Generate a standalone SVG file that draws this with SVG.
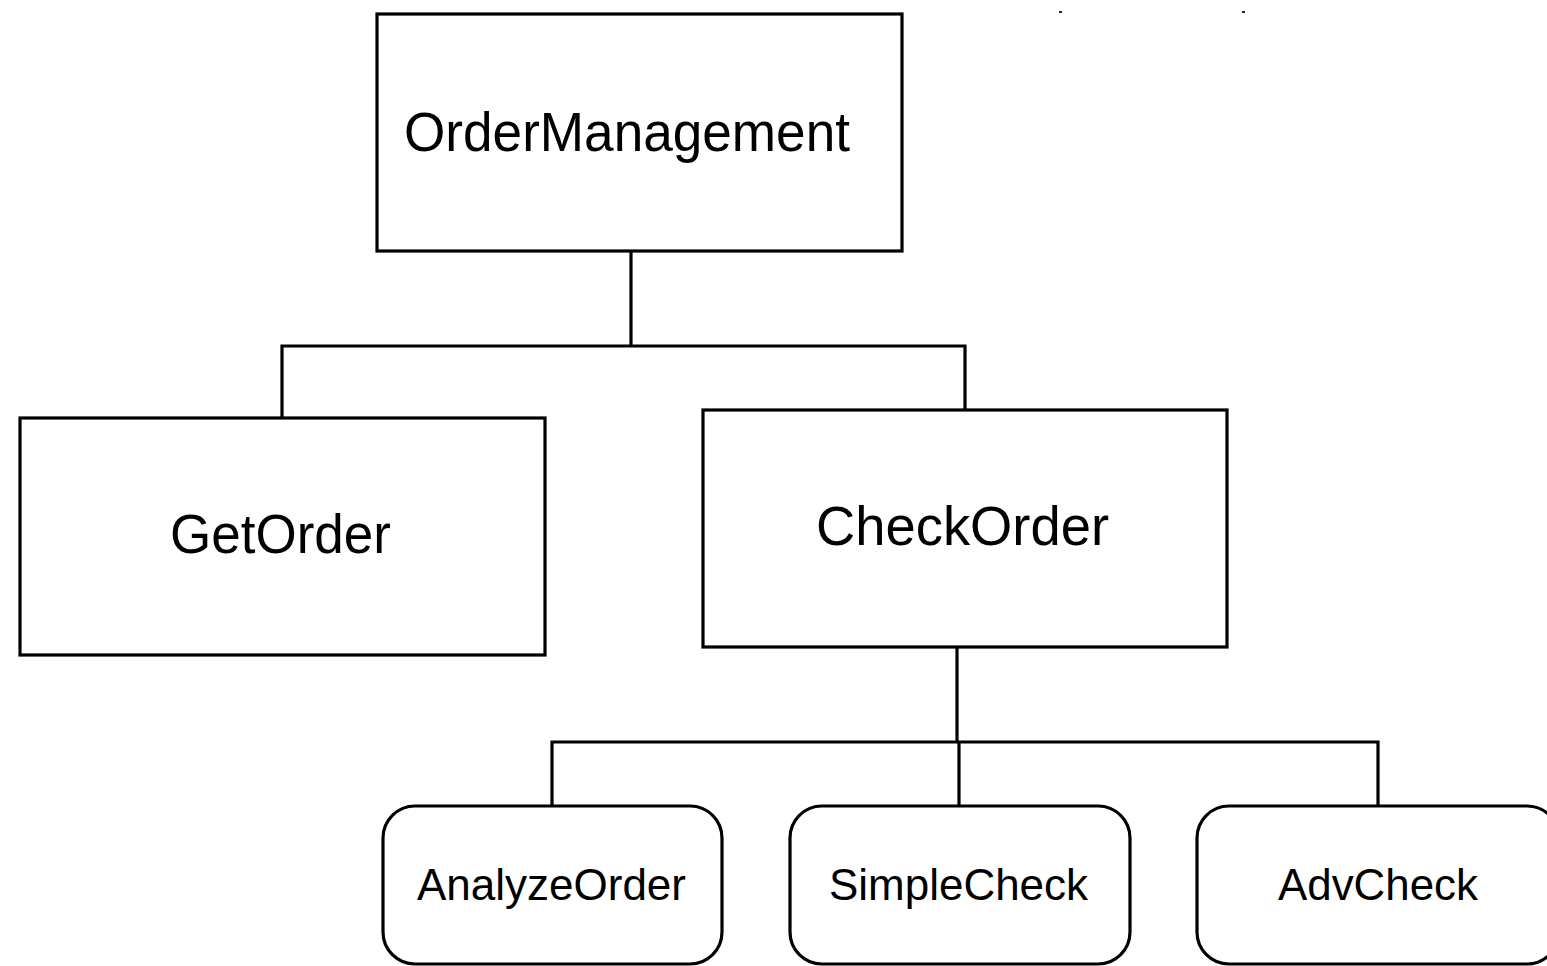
<svg xmlns="http://www.w3.org/2000/svg" width="1547" height="966" viewBox="0 0 1547 966">
<style>
.box{fill:#fff;stroke:#000;stroke-width:3.2}
.conn{fill:none;stroke:#000;stroke-width:3.2}
.big{font-family:"Liberation Sans",Arial,sans-serif;font-size:55px;fill:#000}
.small{font-family:"Liberation Sans",Arial,sans-serif;font-size:44px;fill:#000}
.tick{fill:#222}
</style>
<rect width="1547" height="966" fill="#fff"/>
<rect class="tick" x="1059" y="11" width="3" height="2"/>
<rect class="tick" x="1242" y="11" width="3" height="2"/>
<g id="connectors">
<polyline class="conn" points="631,251 631,346"/>
<polyline class="conn" points="282,418 282,346 965,346 965,410"/>
<polyline class="conn" points="957,647 957,742"/>
<polyline class="conn" points="552,806 552,742 1378,742 1378,806"/>
<polyline class="conn" points="959,742 959,806"/>
</g>
<g id="OrderManagement">
<rect class="box" x="377" y="14" width="525" height="237"/>
<text class="big" x="404" y="151" textLength="446" lengthAdjust="spacingAndGlyphs">OrderManagement</text>
</g>
<g id="GetOrder">
<rect class="box" x="20" y="418" width="525" height="237"/>
<text class="big" x="170" y="553" textLength="221" lengthAdjust="spacingAndGlyphs">GetOrder</text>
</g>
<g id="CheckOrder">
<rect class="box" x="703" y="410" width="524" height="237"/>
<text class="big" x="816" y="545" textLength="293" lengthAdjust="spacingAndGlyphs">CheckOrder</text>
</g>
<g id="AnalyzeOrder">
<rect class="box" x="383" y="806" width="339" height="158" rx="32" ry="32"/>
<text class="small" x="417" y="900" textLength="269" lengthAdjust="spacingAndGlyphs">AnalyzeOrder</text>
</g>
<g id="SimpleCheck">
<rect class="box" x="790" y="806" width="340" height="158" rx="32" ry="32"/>
<text class="small" x="829" y="900" textLength="259" lengthAdjust="spacingAndGlyphs">SimpleCheck</text>
</g>
<g id="AdvCheck">
<rect class="box" x="1197" y="806" width="362" height="158" rx="32" ry="32"/>
<text class="small" x="1278" y="900" textLength="200" lengthAdjust="spacingAndGlyphs">AdvCheck</text>
</g>
</svg>
